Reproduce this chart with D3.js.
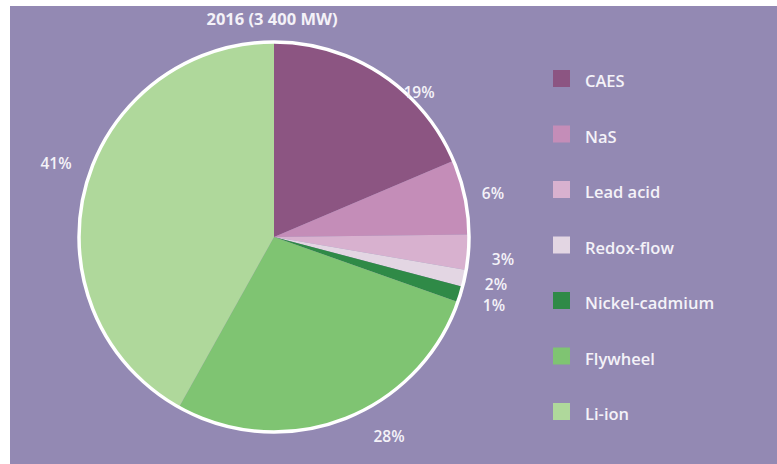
<!DOCTYPE html>
<html><head><meta charset="utf-8">
<script src="https://cdn.jsdelivr.net/npm/d3@7"></script>
<style>
html,body{margin:0;padding:0;background:#fff;}
svg{display:block;}
text{font-family:"Open Sans",Lato,sans-serif;fill:#f4f2f8;}
</style></head><body>
<svg id="c" width="777" height="464"></svg>
<script>
const categories = ["CAES","NaS","Lead acid","Redox-flow","Nickel-cadmium","Flywheel","Li-ion"];
// slice sizes as drawn in the picture (percent)
const shares = [18.6,6.2,2.9,1.4,1.3,27.7,41.9];
// printed labels
const labels = ["19%","6%","3%","2%","1%","28%","41%"];
const colors = ["#8c5582","#c48db8","#d8b1cf","#e3d6e3","#2f8a47","#7fc472","#afd89b"];
const title = "2016 (3 400 MW)";

const svg = d3.select("#c");
svg.append("rect").attr("x",10).attr("y",6).attr("width",767).attr("height",458).attr("fill","#9389b3");

svg.append("text").attr("x",272).attr("y",25).attr("text-anchor","middle")
  .attr("font-size",16.5).attr("font-weight","bold").text(title);

const cx=274, cy=237, r=195;
const data = categories.map((c,i)=>({name:c,value:shares[i],color:colors[i],label:labels[i]}));
const pie = d3.pie().value(d=>d.value).sort(null);
const arcs = pie(data);
const arc = d3.arc().innerRadius(0).outerRadius(r);
const g = svg.append("g").attr("transform",`translate(${cx},${cy})`);
g.selectAll("path.s").data(arcs).join("path").attr("class","s")
  .attr("d",arc).attr("fill",d=>d.data.color);
g.append("circle").attr("r",r).attr("fill","none").attr("stroke","#fff").attr("stroke-width",3.5);

// label centres (offsets from pie centre, per slice)
const labelPos = [[145,-145],[219,-44],[229,22],[222,47],[220,68],[115,199],[-218,-74]];
g.selectAll("text.l").data(arcs).join("text").attr("class","l")
  .attr("x",(d,i)=>labelPos[i][0]).attr("y",(d,i)=>labelPos[i][1]+5.5)
  .attr("text-anchor","middle").attr("font-weight",600)
  .attr("font-size",15.5).text(d=>d.data.label);

const leg = svg.append("g").attr("transform","translate(553,70)");
const ly = d3.scalePoint().domain(categories).range([0,333]);
const row = leg.selectAll("g").data(data).join("g").attr("transform",d=>`translate(0,${ly(d.name)})`);
row.append("rect").attr("width",17).attr("height",17).attr("fill",d=>d.color);
row.append("text").attr("x",32).attr("y",17.3).attr("font-weight",600)
  .attr("font-size",16.5).text(d=>d.name);
</script>
</body></html>
